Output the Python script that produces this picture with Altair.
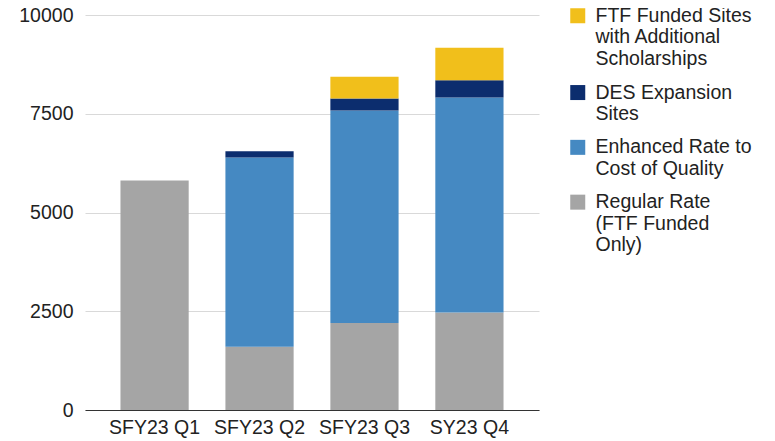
import altair as alt
import pandas as pd

quarters = ["SFY23 Q1", "SFY23 Q2", "SFY23 Q3", "SY23 Q4"]
series = [
    "Regular Rate (FTF Funded Only)",
    "Enhanced Rate to Cost of Quality",
    "DES Expansion Sites",
    "FTF Funded Sites with Additional Scholarships",
]
series_lines = {
    "Regular Rate (FTF Funded Only)": ["Regular Rate", "(FTF Funded", "Only)"],
    "Enhanced Rate to Cost of Quality": ["Enhanced Rate to", "Cost of Quality"],
    "DES Expansion Sites": ["DES Expansion", "Sites"],
    "FTF Funded Sites with Additional Scholarships": ["FTF Funded Sites", "with Additional", "Scholarships"],
}
colors = ["#a5a5a5", "#4589c2", "#0c2d6e", "#f1bf1b"]

regular = [5810, 1600, 2200, 2470]
enhanced = [0, 4790, 5380, 5440]
des = [0, 160, 305, 440]
ftf = [0, 0, 550, 820]
y_ticks = [0, 2500, 5000, 7500, 10000]

rows = []
for i, q in enumerate(quarters):
    for k, vals in enumerate([regular, enhanced, des, ftf]):
        if vals[i] > 0:
            rows.append({"quarter": q, "series": series[k], "value": vals[i], "rank": k})
df = pd.DataFrame(rows)

legend_order = list(reversed(series))
legend_colors = list(reversed(colors))

label_expr = ""
for name in series:
    arr = "[" + ",".join("'" + s + "'" for s in series_lines[name]) + "]"
    label_expr += f"datum.label == '{name}' ? {arr} : "
label_expr += "datum.label"

FONT = "Liberation Sans"
TXT = "#222222"

chart = alt.Chart(df).mark_bar().encode(
    x=alt.X("quarter:N", sort=quarters, title=None,
            scale=alt.Scale(paddingInner=0.35, paddingOuter=0.338),
            axis=alt.Axis(labelAngle=0, labelFontSize=19.5, labelFont=FONT, labelColor=TXT,
                          labelPadding=8, ticks=False, domainColor="#333333", domainWidth=1,
                          grid=False)),
    y=alt.Y("value:Q", stack="zero", title=None,
            scale=alt.Scale(domain=[0, 10000], nice=False),
            axis=alt.Axis(values=y_ticks, format="d", labelFontSize=19.5, labelFont=FONT,
                          labelColor=TXT, labelPadding=12, ticks=False, domain=False,
                          gridColor="#d9d9d9", gridWidth=1)),
    color=alt.Color("series:N", title=None,
                    scale=alt.Scale(domain=legend_order, range=legend_colors),
                    legend=alt.Legend(orient="none", legendX=483, legendY=-9,
                                      symbolType="square", symbolSize=225, symbolStrokeWidth=0,
                                      labelFontSize=19.5, labelFont=FONT, labelColor=TXT,
                                      labelLimit=0, labelOffset=8, labelExpr=label_expr,
                                      labelBaseline="middle", rowPadding=12.8, padding=0,
                                      symbolOpacity=1)),
    order=alt.Order("rank:Q", sort="ascending"),
).properties(
    width=454, height=395,
    autosize=alt.AutoSizeParams(type="none"),
    padding={"left": 77, "top": 7, "right": 222, "bottom": 30},
).configure_view(stroke=None)

chart.save("out.html", embed_options={"renderer": "svg", "actions": False})
